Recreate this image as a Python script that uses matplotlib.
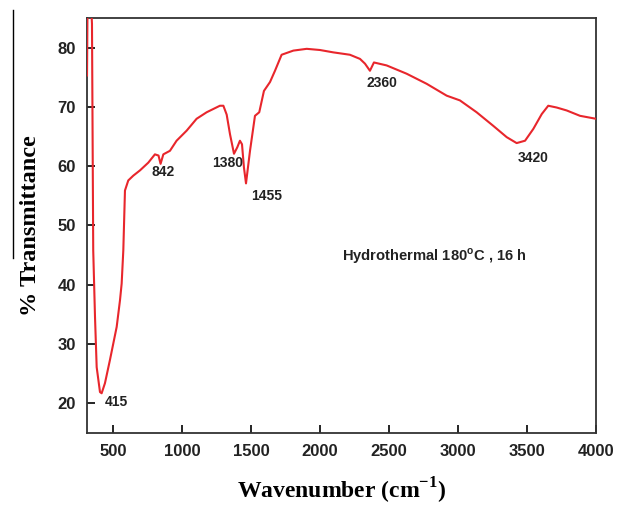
# FTIR spectrum - hydrothermal sample (180 C, 16 h)
# Transmittance vs wavenumber with the main bands labelled

import matplotlib
matplotlib.use('Agg')
import matplotlib.pyplot as plt
from matplotlib.lines import Line2D

plt.rcParams['mathtext.fontset'] = 'custom'
plt.rcParams['mathtext.bf'] = 'Liberation Serif:bold'
plt.rcParams['mathtext.sf'] = 'Liberation Sans:bold'
plt.rcParams['mathtext.rm'] = 'Liberation Serif'

# spectrum
wavenumber = [312, 316, 340, 348, 357, 370, 382, 406, 418, 442, 478, 527, 551,
              563, 575, 587, 611, 647, 696, 756, 804, 830, 845, 865, 913, 961,
              1034, 1106, 1179, 1275, 1300, 1324, 1348, 1377, 1401, 1420, 1435,
              1449, 1464, 1493, 1529, 1560, 1594, 1638, 1674, 1722, 1807, 1904,
              2000, 2097, 2217, 2290, 2326, 2362, 2391, 2483, 2628, 2773, 2918,
              3014, 3135, 3256, 3353, 3425, 3486, 3546, 3607, 3654, 3715, 3788,
              3884, 4000]
transmittance = [75.3, 88, 88, 84, 45.8, 34.5, 26.1, 21.9, 21.7, 23.4, 27.3, 32.9,
                 37.4, 40.2, 45.8, 55.9, 57.6, 58.4, 59.3, 60.6, 62.0, 61.8, 60.4,
                 62.0, 62.6, 64.3, 66.0, 68.0, 69.1, 70.2, 70.2, 68.7, 65.4, 62.1,
                 63.2, 64.3, 63.7, 59.8, 57.1, 62.6, 68.5, 69.1, 72.7, 74.2, 76.1,
                 78.8, 79.5, 79.8, 79.6, 79.2, 78.8, 78.1, 77.3, 76.1, 77.5, 77.0,
                 75.6, 73.9, 71.9, 71.1, 69.1, 66.8, 64.9, 63.9, 64.3, 66.3, 68.8,
                 70.2, 69.9, 69.4, 68.5, 68.0]

# band labels and where they sit
peak_labels = ['415', '842', '1380', '1455', '2360', '3420']
peak_x = [522, 862, 1333, 1616, 2449, 3543]
peak_y = [20.3, 59.0, 60.6, 55.0, 74.1, 61.3]

x_ticks = [500, 1000, 1500, 2000, 2500, 3000, 3500, 4000]
y_ticks = [20, 30, 40, 50, 60, 70, 80]

fig = plt.figure(figsize=(6.18, 5.07), dpi=100)
ax = fig.add_axes([0.1408, 0.146, 0.8236, 0.8185])

ax.plot(wavenumber, transmittance, color='#e8262c', linewidth=1.5, zorder=3)

for lab, px, py in zip(peak_labels, peak_x, peak_y):
    ax.text(px, py, lab, ha='center', va='center', fontsize=10,
            fontweight='bold', family='Liberation Sans', color='#222222')

ax.text(2160, 44.9, r'Hydrothermal 180$^{\mathsf{o}}$C , 16 h', ha='left',
        va='center', fontsize=10.6, fontweight='bold', family='Liberation Sans',
        color='#222222')

ax.set_xlim(312, 4000)
ax.set_ylim(15, 85)
ax.set_xticks(x_ticks)
ax.set_yticks(y_ticks)
ax.tick_params(direction='in', length=6, width=1.2, pad=8, top=False, right=False)
for lbl in ax.get_xticklabels() + ax.get_yticklabels():
    lbl.set_fontfamily('Liberation Sans')
    lbl.set_fontweight('bold')
    lbl.set_fontsize(12)
    lbl.set_color('#222222')

for sp in ax.spines.values():
    sp.set_linewidth(1.3)
    sp.set_color('#333333')

ax.set_xlabel(r'Wavenumber (cm$^{\mathbf{-1}}$)', fontsize=17, fontweight='bold',
              family='Liberation Serif', labelpad=12)
ax.set_ylabel('% Transmittance', fontsize=17.5, fontweight='bold',
              family='Liberation Serif', labelpad=12)

# stray vertical rule at the far left of the original scan
fig.add_artist(Line2D([0.021, 0.021], [0.980, 0.491], color='black',
                      linewidth=1.0, transform=fig.transFigure))

fig.savefig('out.png', dpi=100)
print("saved out.png")
